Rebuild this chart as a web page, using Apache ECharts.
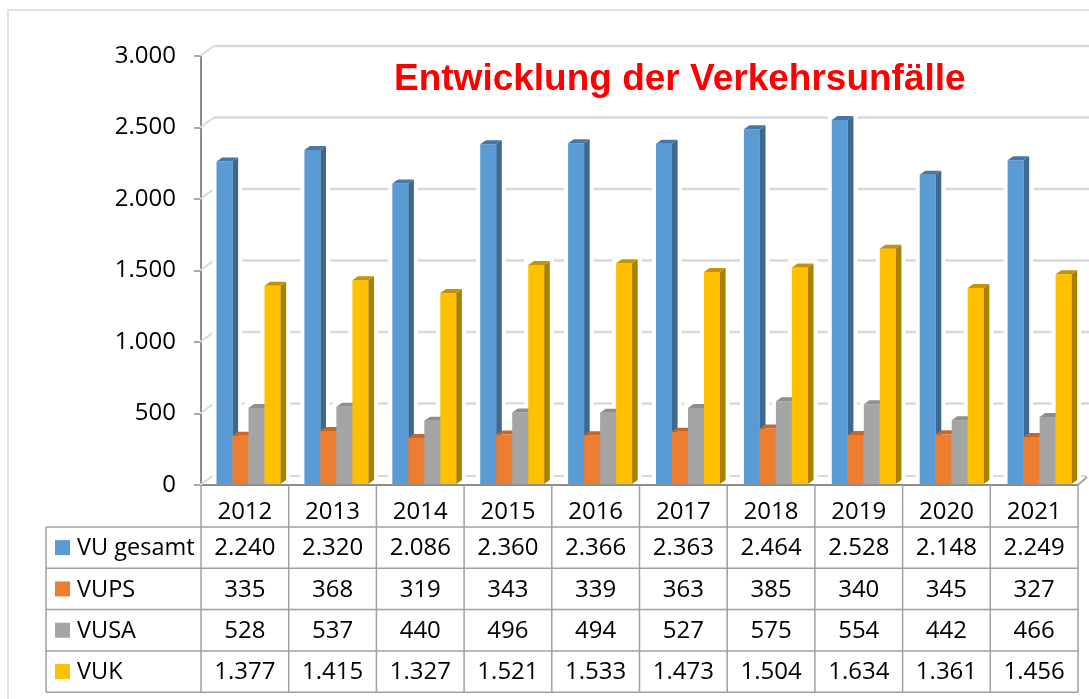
<!DOCTYPE html>
<html>
<head>
<meta charset="utf-8">
<script src="https://cdn.jsdelivr.net/npm/echarts@6/dist/echarts.min.js"></script>
<style>
html,body{margin:0;padding:0;background:#fff;}
#chart{width:1089px;height:699px;}
</style>
</head>
<body>
<div id="chart"></div>
<script>
// ---- data ----
const categories = ['2012','2013','2014','2015','2016','2017','2018','2019','2020','2021'];
const seriesNames = ['VU gesamt','VUPS','VUSA','VUK'];
const vuGesamt = [2240,2320,2086,2360,2366,2363,2464,2528,2148,2249];
const vups     = [335,368,319,343,339,363,385,340,345,327];
const vusa     = [528,537,440,496,494,527,575,554,442,466];
const vuk      = [1377,1415,1327,1521,1533,1473,1504,1634,1361,1456];
const yTicks   = [0,500,1000,1500,2000,2500,3000];
const titleText = 'Entwicklung der Verkehrsunfälle';

const seriesData = [vuGesamt, vups, vusa, vuk];
const frontColors = ['#5b9bd5','#ed7d31','#a5a5a5','#ffc000'];
const sideColors  = ['#3d6890','#b35b1f','#7b7b7b','#a98000'];
const topColors   = ['#4677a6','#c8672a','#8e8e8e','#c49400'];

function fmt(v){
  if (v >= 1000) return Math.floor(v/1000) + '.' + String(v % 1000).padStart(3,'0');
  return String(v);
}

const FONT = '"Open Sans", "Noto Sans", sans-serif';
const FS = 24;
const DX = 5.6, DY = 4;      // bar depth
const WDX = 14, WDY = 10;    // wall depth
const BAR_W = 16/87.7, BAR_OFF = 15.5/87.7;

const chart = echarts.init(document.getElementById('chart'), null, {renderer:'canvas'});

function barGeom(api, si){
  const idx = api.value(0), val = api.value(1);
  const top = api.coord([idx, val]);
  const base = api.coord([idx, 0]);
  const bw = api.size([1,0])[0];
  const left = top[0] - bw/2 + bw*BAR_OFF + idx*0.2 + si*bw*BAR_W;
  const w = bw*BAR_W;
  return {x:left, w:w, top:top[1], base:base[1]};
}

const barSeries = seriesData.map((arr, si) => ({
  type:'custom', name: seriesNames[si], z: 3, xAxisIndex:1, yAxisIndex:1,
  data: arr.map((v,i)=>[i,v]),
  encode:{x:0,y:1},
  renderItem(params, api){
    const g = barGeom(api, si);
    return {type:'group', children:[
      {type:'rect', shape:{x:g.x, y:g.top, width:g.w, height:g.base-g.top}, style:{fill:frontColors[si]}},
      {type:'polygon', shape:{points:[[g.x+g.w,g.top],[g.x+g.w+DX,g.top-DY],[g.x+g.w+DX,g.base-DY],[g.x+g.w,g.base]]}, style:{fill:sideColors[si]}},
      {type:'polygon', shape:{points:[[g.x,g.top],[g.x+DX,g.top-DY],[g.x+g.w+DX,g.top-DY],[g.x+g.w,g.top]]}, style:{fill:topColors[si]}}
    ]};
  }
}));

const haloSeries = seriesData.map((arr, si) => ({
  type:'custom', z: 2, silent:true, xAxisIndex:1, yAxisIndex:1,
  data: arr.map((v,i)=>[i,v]),
  encode:{x:0,y:1},
  renderItem(params, api){
    const g = barGeom(api, si);
    return {type:'rect', shape:{x:g.x-4, y:g.top-DY-4, width:g.w+DX+8, height:g.base-g.top+DY}, style:{fill:'#ffffff'}};
  }
}));

const wallSeries = {
  type:'custom', z:1, silent:true,
  data: yTicks.map(v=>[0,v]),
  encode:{x:0,y:1},
  renderItem(params, api){
    const v = api.value(1);
    const cs = params.coordSys;
    const y = api.coord([0, v])[1];
    const left = cs.x - 1;
    const right = cs.x + cs.width;
    const children = [
      {type:'line', shape:{x1:left, y1:y, x2:left+WDX, y2:y-WDY}, style:{stroke:'#d9d9d9', lineWidth:2}},
    ];
    if (v === 0) {
      children.push({type:'line', shape:{x1:left+WDX, y1:y-WDY+1, x2:right+9, y2:y-WDY+1}, style:{stroke:'#d9d9d9', lineWidth:2}});
      children.push({type:'line', shape:{x1:right, y1:y, x2:right+9, y2:y-8}, style:{stroke:'#a6a6a6', lineWidth:2}});
    } else {
      children.push({type:'line', shape:{x1:left+WDX, y1:y-WDY, x2:1095, y2:y-WDY}, style:{stroke:'#d9d9d9', lineWidth:2.5}});
    }
    return {type:'group', children};
  }
};

const ROW_TOP0 = 527, ROW_H = 41.3, LEG_LEFT = 46;
const tableSeries = {
  type:'custom', z:4, silent:true,
  data: categories.map((c,i)=>[i,0]),
  encode:{x:0,y:1},
  renderItem(params, api){
    const idx = api.value(0);
    const c = api.coord([idx, 0]);
    const bw = api.size([1,0])[0];
    const l = c[0]-bw/2, r = c[0]+bw/2;
    const bottom = ROW_TOP0 + 4*ROW_H;
    const lineStyle = {stroke:'#a0a0a0', lineWidth:1.5};
    const ch = [];
    ch.push({type:'line', shape:{x1:r, y1:c[1], x2:r, y2:bottom}, style:lineStyle});
    if (idx === 0) ch.push({type:'line', shape:{x1:l, y1:c[1], x2:l, y2:bottom}, style:lineStyle});
    for (let k=0;k<=4;k++){
      const y = ROW_TOP0 + k*ROW_H;
      ch.push({type:'line', shape:{x1:l, y1:y, x2:r, y2:y}, style:lineStyle});
    }
    for (let k=0;k<4;k++){
      ch.push({type:'text', style:{text: fmt(seriesData[k][idx]), x:c[0], y:ROW_TOP0 + k*ROW_H + ROW_H/2 + 1,
        align:'center', verticalAlign:'middle', font: FS+'px '+FONT, fill:'#000'}});
    }
    if (idx === 0) {
      ch.push({type:'line', shape:{x1:LEG_LEFT, y1:ROW_TOP0, x2:LEG_LEFT, y2:bottom}, style:lineStyle});
      for (let k=0;k<=4;k++){
        const y = ROW_TOP0 + k*ROW_H;
        ch.push({type:'line', shape:{x1:LEG_LEFT, y1:y, x2:l, y2:y}, style:lineStyle});
      }
      for (let k=0;k<4;k++){
        const yc = ROW_TOP0 + k*ROW_H + ROW_H/2;
        ch.push({type:'rect', shape:{x:55, y:yc-7.5, width:15, height:15}, style:{fill:frontColors[k]}});
        ch.push({type:'text', style:{text: seriesNames[k], x:77, y:yc+1, align:'left', verticalAlign:'middle',
          font: (FS-0.5)+'px '+FONT, fill:'#000'}});
      }
    }
    return {type:'group', children: ch};
  }
};

chart.setOption({
  animation:false,
  backgroundColor:'#ffffff',
  title:{text:titleText, left:389, top:56,
    textStyle:{color:'#ff0000', fontSize:37, fontWeight:'bold', fontFamily:'"Liberation Sans", Arial, sans-serif'}},
  grid:[
    {left:201, right:11, top:56, bottom:214, containLabel:false},
    {left:201, right:11, top:52, bottom:215, containLabel:false}
  ],
  xAxis:[
    {type:'category', data:categories, boundaryGap:true, gridIndex:0,
      axisLine:{show:true, lineStyle:{color:'#8c8c8c', width:2}},
      axisTick:{show:false},
      axisLabel:{show:true, margin:15, color:'#000', fontSize:FS, fontFamily:FONT},
      splitLine:{show:false}},
    {type:'category', data:categories, boundaryGap:true, gridIndex:1, show:false}
  ],
  yAxis:[
    {type:'value', min:0, max:3000, interval:500, gridIndex:0,
      axisLine:{show:true, lineStyle:{color:'#8c8c8c', width:2}},
      axisTick:{show:true, length:7, lineStyle:{color:'#8c8c8c', width:1.5}},
      axisLabel:{margin:25, color:'#000', fontSize:FS, fontFamily:FONT, formatter:(v)=>fmt(v)},
      splitLine:{show:false}},
    {type:'value', min:0, max:3000, interval:500, gridIndex:1, show:false, splitLine:{show:false}}
  ],
  graphic:[{type:'rect', shape:{x:8, y:10, width:1200, height:800}, style:{fill:'none', stroke:'#d9d9d9', lineWidth:1.5}, silent:true, z:0}],
  series:[wallSeries, ...haloSeries, ...barSeries, tableSeries]
});
</script>
</body>
</html>
